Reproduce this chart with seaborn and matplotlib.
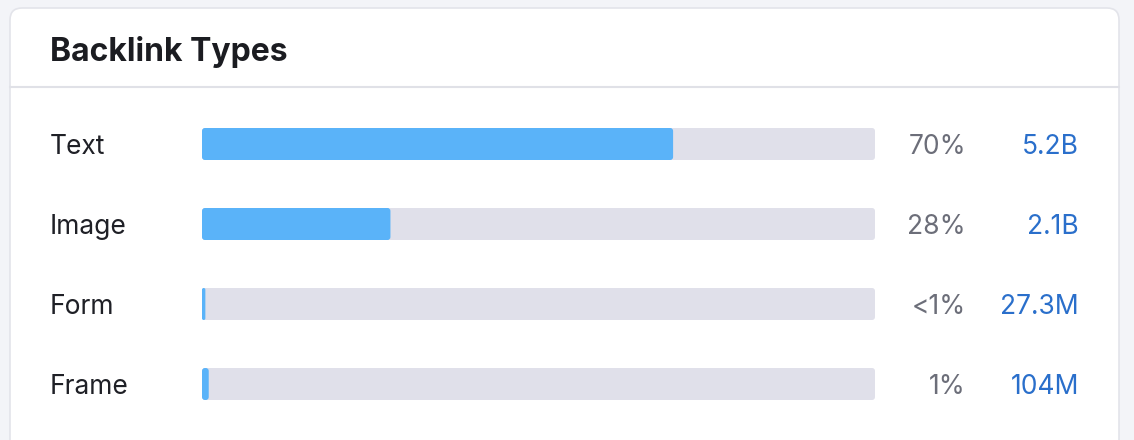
import pandas as pd
import numpy as np
import matplotlib.pyplot as plt
import seaborn as sns
from matplotlib.patches import FancyBboxPatch
from matplotlib.transforms import blended_transform_factory

categories = ['Text', 'Image', 'Form', 'Frame']
share_pct = [70, 28, 0.5, 1.0]
pct_labels = ['70%', '28%', '<1%', '1%']
count_labels = ['5.2B', '2.1B', '27.3M', '104M']
track_total = [100, 100, 100, 100]

df = pd.DataFrame({'type': categories, 'share': share_pct, 'total': track_total})

sns.set_theme(style='white')
plt.rcParams['font.family'] = ['Inter', 'DejaVu Sans']

W, H = 1134, 440
fig = plt.figure(figsize=(W / 100, H / 100), dpi=100)
fig.patch.set_facecolor('#f3f4f8')

# card background (pixel-space overlay)
bg = fig.add_axes([0, 0, 1, 1])
bg.set_xlim(0, W)
bg.set_ylim(H, 0)
bg.axis('off')
card = FancyBboxPatch((10, 8), 1109, 460, boxstyle='round,pad=0,rounding_size=12',
                      facecolor='white', edgecolor='#e3e4ea', linewidth=1.2)
bg.add_patch(card)
bg.plot([10, 1119], [87, 87], color='#e0e1e7', linewidth=1.5)
bg.text(50, 48, 'Backlink Types', fontsize=23, fontweight='bold', color='#1b1c21',
        va='center_baseline', ha='left')

# bar area
ax = fig.add_axes([202 / W, 1 - 424 / H, 673 / W, 320 / H])
sns.barplot(data=df, x='total', y='type', color='#e0e0ea', width=0.4, ax=ax,
            orient='h', saturation=1)
sns.barplot(data=df, x='share', y='type', color='#5ab3f9', width=0.4, ax=ax,
            orient='h', saturation=1)
ax.set_xlim(0, 100)
ax.set_ylim(3.5, -0.5)
ax.axis('off')
ax.patch.set_alpha(0)

# round bar corners
px_x = 100 / 673
px_y = 1 / 80
for p in list(ax.patches):
    x0, y0, w, h = p.get_x(), p.get_y(), p.get_width(), p.get_height()
    r = min(3 * px_x, w / 2)
    fb = FancyBboxPatch((x0, y0), w, h, boxstyle=f'round,pad=0,rounding_size={r}',
                        mutation_aspect=px_y / px_x, facecolor=p.get_facecolor(),
                        edgecolor='none', zorder=p.get_zorder())
    p.remove()
    ax.add_patch(fb)

# row labels and values
tr = blended_transform_factory(fig.transFigure, ax.transData)
for i, cat in enumerate(categories):
    ax.text(50 / W, i, cat, transform=tr, fontsize=19, color='#1f2026',
            va='center_baseline', ha='left', clip_on=False)
    ax.text(966 / W, i, pct_labels[i], transform=tr, fontsize=19, color='#6c6e79',
            va='center_baseline', ha='right', clip_on=False)
    ax.text(1079 / W, i, count_labels[i], transform=tr, fontsize=19, color='#2a6fcb',
            va='center_baseline', ha='right', clip_on=False)

plt.savefig('out.png', dpi=100, facecolor=fig.get_facecolor())
